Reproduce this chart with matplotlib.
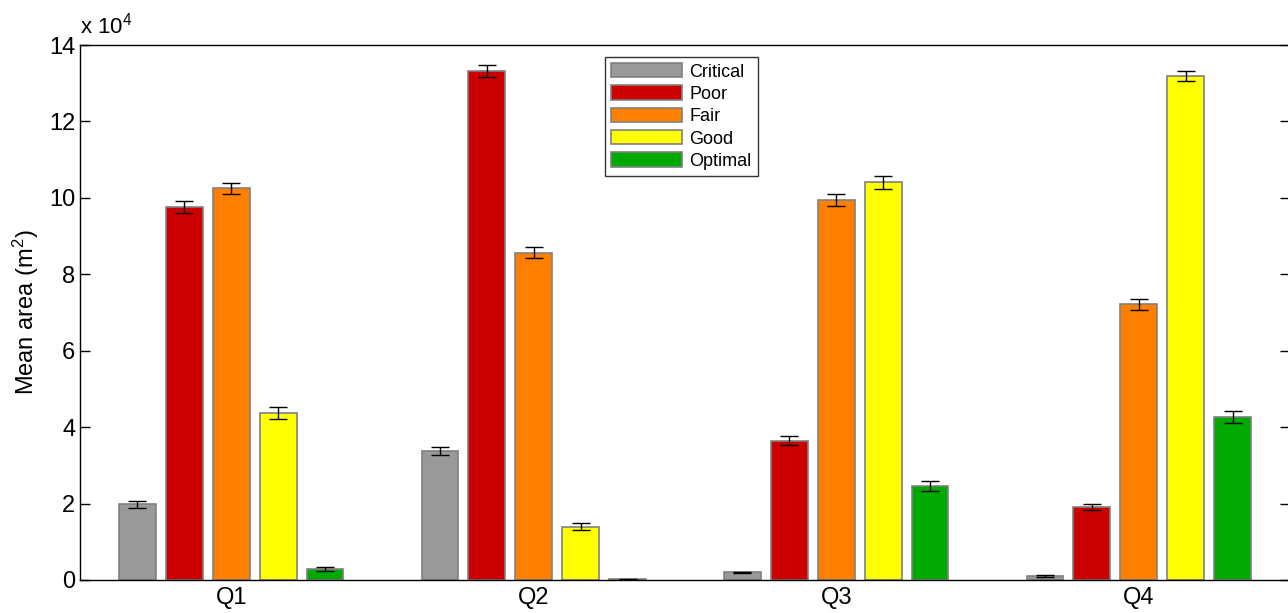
#%% Preamble
import matplotlib
matplotlib.use('Agg')
import matplotlib.pyplot as plt
import numpy as np

plt.rcParams['font.family'] = ['Liberation Sans', 'DejaVu Sans']
plt.rcParams['mathtext.default'] = 'regular'

#%% Data (x 10^4 m^2)
quarters = ['Q1', 'Q2', 'Q3', 'Q4']
classes = ['Critical', 'Poor', 'Fair', 'Good', 'Optimal']
colors = ['#999999', '#CC0000', '#FF8000', '#FFFF00', '#00AA00']

critical = [1.98, 3.37, 0.20, 0.10]
poor = [9.77, 13.32, 3.65, 1.91]
fair = [10.25, 8.57, 9.95, 7.21]
good = [4.37, 1.40, 10.41, 13.19]
optimal = [0.29, 0.02, 2.47, 4.26]

critical_err = [0.10, 0.11, 0.02, 0.02]
poor_err = [0.16, 0.15, 0.12, 0.09]
fair_err = [0.15, 0.15, 0.16, 0.15]
good_err = [0.15, 0.08, 0.17, 0.14]
optimal_err = [0.045, 0.01, 0.13, 0.15]

means = [critical, poor, fair, good, optimal]
errs = [critical_err, poor_err, fair_err, good_err, optimal_err]

#%% Plot
fig = plt.figure(figsize=(12.88, 6.13), dpi=100)
ax = fig.add_axes([80/1288, 33/613, 1210/1288, 535/613])

x = np.arange(1, len(quarters) + 1)
step = 0.155
width = 0.122
for i, (name, col) in enumerate(zip(classes, colors)):
    pos = x + (i - 2) * step
    ax.bar(pos, means[i], width=width, color=col, edgecolor='#808080',
           linewidth=1.2, label=name, zorder=2)
    ax.errorbar(pos, means[i], yerr=errs[i], fmt='none', ecolor='black',
                elinewidth=1, capsize=6.5, capthick=1, zorder=3)

ax.set_xlim(0.5, 4.5)
ax.set_ylim(0, 14)
ax.set_yticks(np.arange(0, 15, 2))
ax.set_xticks(x)
ax.set_xticklabels(quarters)
ax.tick_params(axis='y', direction='in', length=7, width=1, right=True,
               labelsize=17)
ax.tick_params(axis='x', length=0, labelsize=17, pad=5)
for s in ax.spines.values():
    s.set_linewidth(1)
ax.set_ylabel('Mean area (m$^2$)', fontsize=17, labelpad=6)
ax.text(0, 1.012, 'x 10$^{4}$', transform=ax.transAxes, fontsize=16,
        ha='left', va='bottom')

leg = ax.legend(loc='upper left', bbox_to_anchor=(0.434, 0.978), fontsize=13,
                frameon=True, fancybox=False, edgecolor='black',
                handlelength=3.9, handleheight=0.85, labelspacing=0.27,
                handletextpad=0.4, borderpad=0.35, borderaxespad=0)
leg.get_frame().set_linewidth(1)

fig.savefig('out.png', dpi=100)
